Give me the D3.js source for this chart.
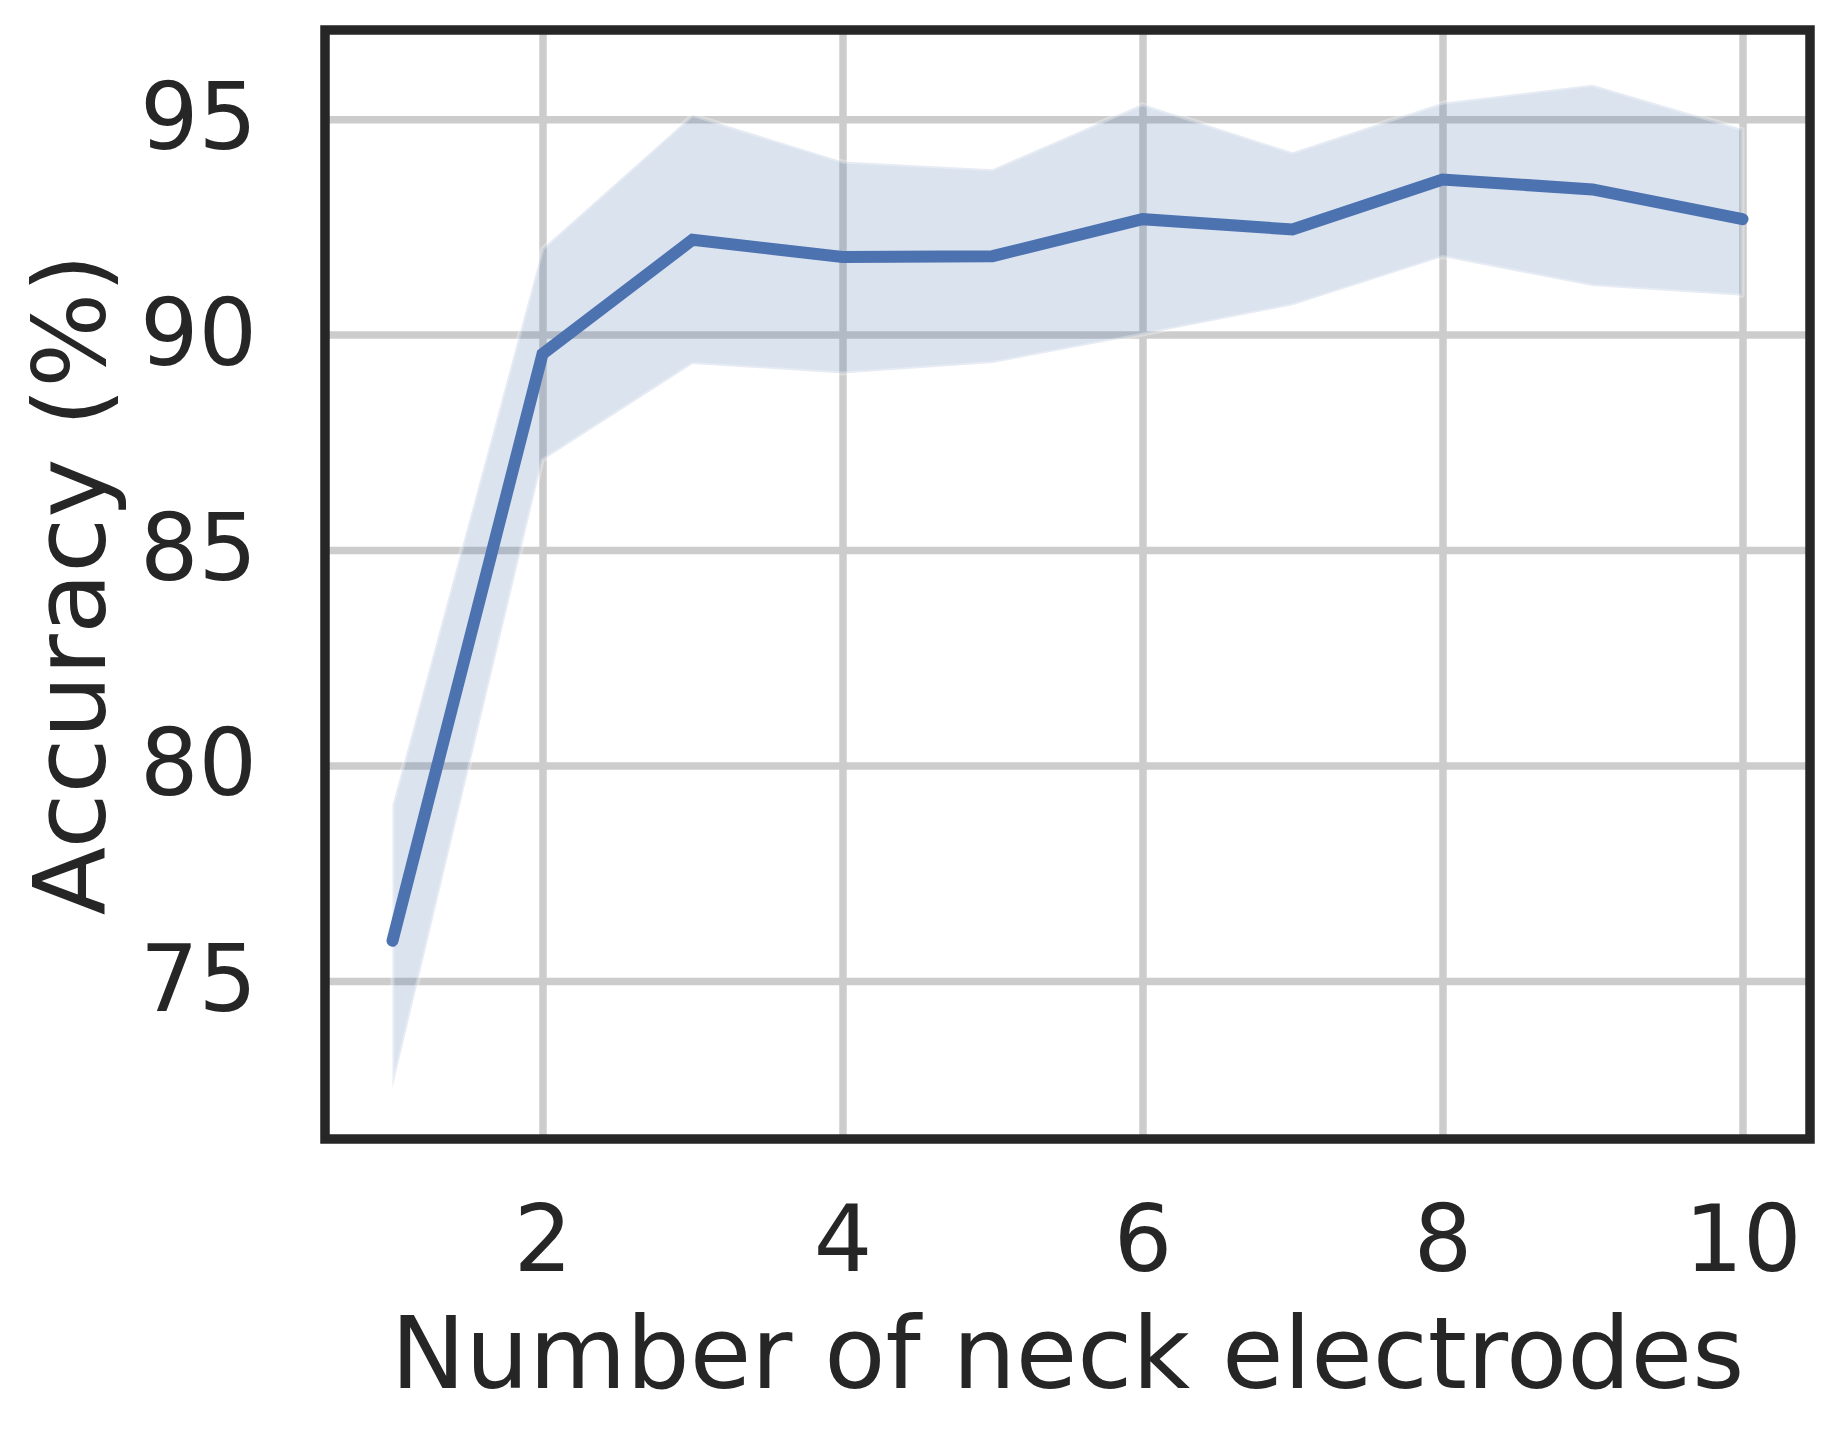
<!DOCTYPE html>
<html>
<head>
<meta charset="utf-8">
<script src="https://cdn.jsdelivr.net/npm/d3@7"></script>
<style>
    body { margin: 0; background: #fff; }
    text { font-family: "DejaVu Sans", sans-serif; fill: #262626; }
</style>
</head>
<body>
<div id="chart"></div>
<script>
// values
var electrodes = [1, 2, 3, 4, 5, 6, 7, 8, 9, 10];
var meanAcc  = [75.93, 89.55, 92.2, 91.8, 91.82, 92.68, 92.44, 93.6, 93.37, 92.68];
var upperAcc = [79.08, 92.0, 95.1, 94.02, 93.84, 95.35, 94.23, 95.38, 95.8, 94.77];
var lowerAcc = [72.52, 87.08, 89.32, 89.1, 89.34, 90.0, 90.68, 91.8, 91.13, 90.9];
var xTicks = [2, 4, 6, 8, 10];
var yTicks = [75, 80, 85, 90, 95];

var width = 1842, height = 1437;
var margin = {left: 325, right: 32, top: 30, bottom: 298};
var w = width - margin.left - margin.right,
    h = height - margin.top - margin.bottom;
var blue = "#4c72b0";

var svg = d3.select("#chart").append("svg")
    .attr("width", width)
    .attr("height", height);

var g = svg.append("g")
    .attr("transform", "translate(" + margin.left + "," + margin.top + ")");

var x = d3.scaleLinear().domain([0.55, 10.45]).range([0, w]);
var y = d3.scaleLinear().domain([71.33, 97.07]).range([h, 0]);

// grid + tick labels
var xAxis = g.append("g")
    .attr("transform", "translate(0," + h + ")")
    .call(d3.axisBottom(x).tickValues(xTicks).tickSize(-h).tickPadding(67));

var yAxis = g.append("g")
    .call(d3.axisLeft(y).tickValues(yTicks).tickSize(-w).tickPadding(68));

[xAxis, yAxis].forEach(function(a) {
    a.select(".domain").remove();
    a.selectAll(".tick line")
        .attr("stroke", "#cccccc")
        .attr("stroke-width", 7.5);
    a.selectAll(".tick text")
        .attr("font-size", 92)
        .attr("fill", "#262626");
});

var rows = electrodes.map(function(d, i) {
    return {x: d, m: meanAcc[i], lo: lowerAcc[i], hi: upperAcc[i]};
});

// confidence band
g.append("path")
    .datum(rows)
    .attr("d", d3.area()
        .x(d => x(d.x))
        .y0(d => y(d.lo))
        .y1(d => y(d.hi)))
    .attr("fill", blue)
    .attr("fill-opacity", 0.2)
    .attr("stroke", "#ffffff")
    .attr("stroke-opacity", 0.3)
    .attr("stroke-width", 4)
    .attr("stroke-linejoin", "round");

// mean line
g.append("path")
    .datum(rows)
    .attr("d", d3.line()
        .x(d => x(d.x))
        .y(d => y(d.m)))
    .attr("fill", "none")
    .attr("stroke", blue)
    .attr("stroke-width", 12)
    .attr("stroke-linecap", "round")
    .attr("stroke-linejoin", "miter");

// frame on top
g.append("rect")
    .attr("width", w)
    .attr("height", h)
    .attr("fill", "none")
    .attr("stroke", "#262626")
    .attr("stroke-width", 9.5);

// axis labels
svg.append("text")
    .attr("x", margin.left + w / 2)
    .attr("y", 1388)
    .attr("text-anchor", "middle")
    .attr("font-size", 100)
    .text("Number of neck electrodes");

svg.append("text")
    .attr("transform", "translate(105," + (margin.top + h / 2) + ") rotate(-90)")
    .attr("text-anchor", "middle")
    .attr("font-size", 100)
    .text("Accuracy (%)");
</script>
</body>
</html>
